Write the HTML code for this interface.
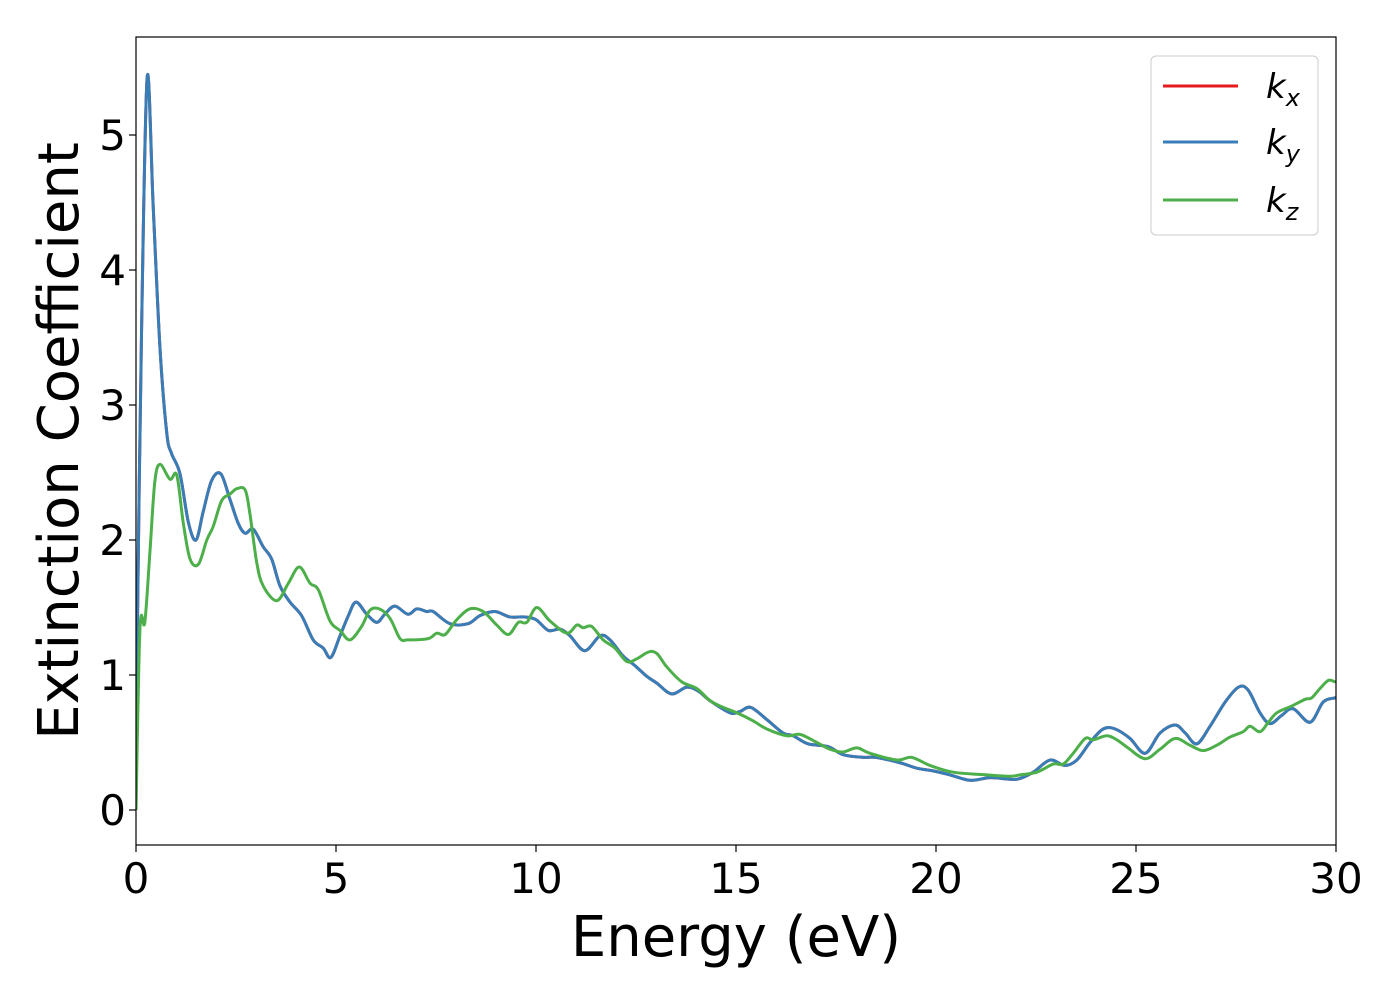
<!DOCTYPE html>
<html><head><meta charset="utf-8">
<style>
html,body{margin:0;padding:0;background:#fff;}
svg text{font-family:"DejaVu Sans","Liberation Sans",sans-serif;fill:#000;}
</style></head>
<body>
<svg id="chart" width="1400" height="1000" viewBox="0 0 1400 1000" xmlns="http://www.w3.org/2000/svg">
<defs><clipPath id="pc"><rect x="136" y="37" width="1200" height="808"/></clipPath></defs>
<rect x="0" y="0" width="1400" height="1000" fill="#fff"/>
<g id="series" clip-path="url(#pc)"></g>
<rect x="136" y="37" width="1200" height="808" fill="none" stroke="#000" stroke-width="1.2"/>
<g id="xticks"></g><g id="yticks"></g>
<text x="736" y="956" font-size="56" text-anchor="middle">Energy (eV)</text>
<text transform="translate(78,441) rotate(-90)" font-size="56" text-anchor="middle">Extinction Coefficient</text>
<g>
<rect x="1151" y="56" width="167" height="179" rx="5" fill="#fff" stroke="#ccc" stroke-width="1"/>
<line x1="1163" y1="86" x2="1238" y2="86" stroke="#e41a1c" stroke-width="3"/>
<text x="1266" y="98" font-size="34" font-style="italic">k<tspan font-size="24" dy="8">x</tspan></text>
<line x1="1163" y1="142" x2="1238" y2="142" stroke="#377eb8" stroke-width="3"/>
<text x="1266" y="154" font-size="34" font-style="italic">k<tspan font-size="24" dy="8">y</tspan></text>
<line x1="1163" y1="200" x2="1238" y2="200" stroke="#4daf4a" stroke-width="3"/>
<text x="1266" y="212" font-size="34" font-style="italic">k<tspan font-size="24" dy="8">z</tspan></text>
</g>
</svg>
<script>
const xTickValues=[0,5,10,15,20,25,30];
const yTickValues=[0,1,2,3,4,5];
const energyXY=[0,0.02,0.14,0.28,0.43,0.6,0.77,0.89,1.1,1.31,1.5,1.68,1.89,2.12,2.35,2.56,2.73,2.93,3.18,3.39,3.6,3.85,4.14,4.43,4.68,4.87,5.1,5.31,5.5,5.77,6.02,6.22,6.47,6.8,7.02,7.27,7.43,7.85,8.3,8.6,8.97,9.35,9.72,10.0,10.31,10.6,10.85,11.22,11.6,11.85,12.18,12.47,12.77,13.02,13.39,13.77,14.06,14.35,14.85,15.1,15.37,15.77,16.18,16.43,16.8,17.3,17.68,18.18,18.5,19.1,19.52,19.93,20.35,20.85,21.35,21.77,22.06,22.43,22.85,23.22,23.52,23.85,24.18,24.48,24.85,25.23,25.6,25.98,26.23,26.52,26.85,27.23,27.56,27.8,28.1,28.35,28.64,28.93,29.35,29.68,29.97,30];
const kyValues=[0,1.0,3.57,5.43,4.47,3.42,2.79,2.64,2.49,2.13,2.0,2.21,2.44,2.49,2.3,2.12,2.05,2.08,1.95,1.86,1.66,1.54,1.44,1.26,1.2,1.13,1.29,1.44,1.54,1.45,1.39,1.45,1.51,1.45,1.49,1.47,1.47,1.38,1.38,1.44,1.47,1.43,1.43,1.41,1.33,1.34,1.29,1.18,1.29,1.26,1.14,1.07,0.99,0.94,0.86,0.91,0.88,0.81,0.72,0.73,0.76,0.67,0.57,0.55,0.49,0.47,0.41,0.39,0.39,0.35,0.31,0.29,0.26,0.22,0.24,0.23,0.23,0.28,0.37,0.33,0.37,0.50,0.60,0.60,0.53,0.42,0.57,0.63,0.57,0.49,0.62,0.80,0.91,0.89,0.72,0.64,0.70,0.75,0.65,0.80,0.83,0.83];
const kxValues=kyValues.slice();
const energyZ=[0,0.1,0.22,0.35,0.47,0.6,0.85,1.02,1.18,1.35,1.56,1.77,1.93,2.14,2.35,2.52,2.73,2.85,3.02,3.18,3.52,3.81,4.08,4.35,4.56,4.85,5.1,5.35,5.64,5.85,6.08,6.35,6.6,6.8,7.31,7.52,7.73,8.02,8.35,8.68,9.02,9.31,9.56,9.77,10.02,10.35,10.77,11.02,11.18,11.39,11.68,11.97,12.27,12.52,12.81,13.02,13.27,13.64,14.02,14.35,14.68,15.02,15.43,15.77,16.27,16.6,17.02,17.35,17.68,18.02,18.35,19.02,19.39,19.85,20.43,21.27,21.85,22.1,22.52,22.93,23.18,23.43,23.73,23.93,24.27,24.52,24.8,25.23,25.6,25.98,26.35,26.68,27.02,27.35,27.68,27.85,28.1,28.31,28.52,28.89,29.23,29.39,29.6,29.81,29.97,30];
const kzValues=[0,1.35,1.39,1.92,2.43,2.56,2.45,2.48,2.13,1.86,1.82,2.0,2.1,2.29,2.34,2.38,2.37,2.19,1.83,1.66,1.55,1.68,1.8,1.68,1.63,1.4,1.33,1.26,1.36,1.48,1.49,1.42,1.27,1.26,1.27,1.31,1.3,1.41,1.49,1.47,1.37,1.3,1.39,1.39,1.5,1.40,1.31,1.37,1.35,1.36,1.26,1.2,1.10,1.12,1.17,1.16,1.06,0.95,0.90,0.81,0.76,0.72,0.66,0.60,0.55,0.56,0.50,0.45,0.43,0.46,0.42,0.37,0.39,0.33,0.28,0.26,0.25,0.26,0.28,0.34,0.34,0.42,0.53,0.52,0.55,0.52,0.46,0.38,0.45,0.53,0.48,0.44,0.48,0.54,0.58,0.62,0.58,0.65,0.72,0.77,0.82,0.83,0.90,0.96,0.95,0.95];

const NS='http://www.w3.org/2000/svg';
const X0=136,X1=1336,Y0=810,PPU=135;
function xs(e){return X0+(e/30)*(X1-X0);}
function ys(k){return Y0-k*PPU;}
function pathFor(E,K){
  const p=E.map((e,i)=>[xs(e),ys(K[i])]);
  let d='M'+p[0][0].toFixed(2)+','+p[0][1].toFixed(2);
  for(let i=0;i<p.length-1;i++){
    const a=p[i-1]||p[i],b=p[i],c=p[i+1],n=p[i+2]||c;
    const c1x=b[0]+(c[0]-a[0])/6,c1y=b[1]+(c[1]-a[1])/6;
    const c2x=c[0]-(n[0]-b[0])/6,c2y=c[1]-(n[1]-b[1])/6;
    d+=' C'+c1x.toFixed(2)+','+c1y.toFixed(2)+' '+c2x.toFixed(2)+','+c2y.toFixed(2)+' '+c[0].toFixed(2)+','+c[1].toFixed(2);
  }
  return d;
}
const g=document.getElementById('series');
function addLine(E,K,color,name){
  const el=document.createElementNS(NS,'path');
  el.setAttribute('d',pathFor(E,K));
  el.setAttribute('fill','none');
  el.setAttribute('stroke',color);
  el.setAttribute('stroke-width','3');
  el.setAttribute('stroke-linejoin','round');
  
  
  g.appendChild(el);
}
addLine(energyXY,kxValues,'#e41a1c','kx-line');
addLine(energyXY,kyValues,'#377eb8','ky-line');
addLine(energyZ,kzValues,'#4daf4a','kz-line');

const xt=document.getElementById('xticks');
xTickValues.forEach(v=>{
  const l=document.createElementNS(NS,'line');
  l.setAttribute('x1',xs(v));l.setAttribute('x2',xs(v));
  l.setAttribute('y1',845);l.setAttribute('y2',852);
  l.setAttribute('stroke','#000');l.setAttribute('stroke-width','1.2');
  
  
  xt.appendChild(l);
  const t=document.createElementNS(NS,'text');
  t.setAttribute('x',xs(v));t.setAttribute('y',893);
  t.setAttribute('font-size','42');t.setAttribute('text-anchor','middle');
  t.textContent=String(v);
  
  
  xt.appendChild(t);
});
const yt=document.getElementById('yticks');
yTickValues.forEach(v=>{
  const l=document.createElementNS(NS,'line');
  l.setAttribute('x1',129);l.setAttribute('x2',136);
  l.setAttribute('y1',ys(v));l.setAttribute('y2',ys(v));
  l.setAttribute('stroke','#000');l.setAttribute('stroke-width','1.2');
  
  
  yt.appendChild(l);
  const t=document.createElementNS(NS,'text');
  t.setAttribute('x',126);t.setAttribute('y',ys(v)+15);
  t.setAttribute('font-size','42');t.setAttribute('text-anchor','end');
  t.textContent=String(v);
  
  
  yt.appendChild(t);
});
</script>
</body></html>
